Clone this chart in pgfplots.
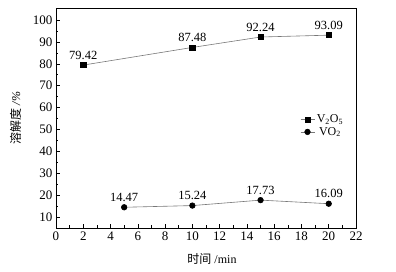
\documentclass[border=0pt]{standalone}
\usepackage{pgfplots}
\pgfplotsset{compat=1.18}
\usepackage{fontspec}
\setmainfont{Liberation Serif}
\newfontfamily\cjk{Noto Sans CJK SC}
\definecolor{lg}{RGB}{120,120,120}
\begin{document}
\begin{tikzpicture}
\path[use as bounding box] (-56pt,-44pt) rectangle (340pt,228pt);
\begin{axis}[
  at={(0,0)}, anchor=south west,
  scale only axis, width=300pt, height=220pt,
  xmin=0, xmax=22, ymin=5, ymax=105.5,
  xtick={0,2,...,22}, ytick={10,20,...,100},
  minor x tick num=1, minor y tick num=1,
  tick align=inside, xtick pos=left, ytick pos=left,
  major tick length=4pt, minor tick length=2.5pt,
  axis line style={black, line width=0.7pt},
  tick style={black, line width=0.6pt},
  /pgf/number format/assume math mode=true,
  ticklabel style={font=\fontsize{13}{15}\selectfont},
  xlabel={{\cjk 时间} /min},
  ylabel={{\cjk 溶解度} \textit{/\%}},
  label style={font=\fontsize{12}{14}\selectfont},
  xlabel style={yshift=-6pt, xshift=6pt},
  ylabel style={yshift=5pt},
  nodes near coords,
  nodes near coords style={font=\fontsize{12.5}{14}\selectfont, black, /pgf/number format/fixed, /pgf/number format/fixed zerofill, /pgf/number format/precision=2, yshift=2pt},
  legend style={draw=none, fill=none, at={(0.81,0.465)}, anchor=west, font=\fontsize{12}{14}\selectfont, row sep=-1pt, inner sep=1pt},
  legend image code/.code={\draw[#1] (0pt,0pt) -- (14pt,0pt); \draw[#1, only marks] plot coordinates {(7pt,0pt)};},
]
\addplot[lg, line width=0.6pt, mark=square*, mark size=2.6pt, mark options={black, fill=black}] coordinates {(2,79.42) (10,87.48) (15,92.24) (20,93.09)};
\addlegendentry{V\textsubscript{2}O\textsubscript{5}}
\addplot[lg, line width=0.6pt, mark=*, mark size=2.8pt, mark options={black, fill=black}] coordinates {(5,14.47) (10,15.24) (15,17.73) (20,16.09)};
\addlegendentry{VO\textsubscript{2}}
\end{axis}
\end{tikzpicture}
\end{document}
